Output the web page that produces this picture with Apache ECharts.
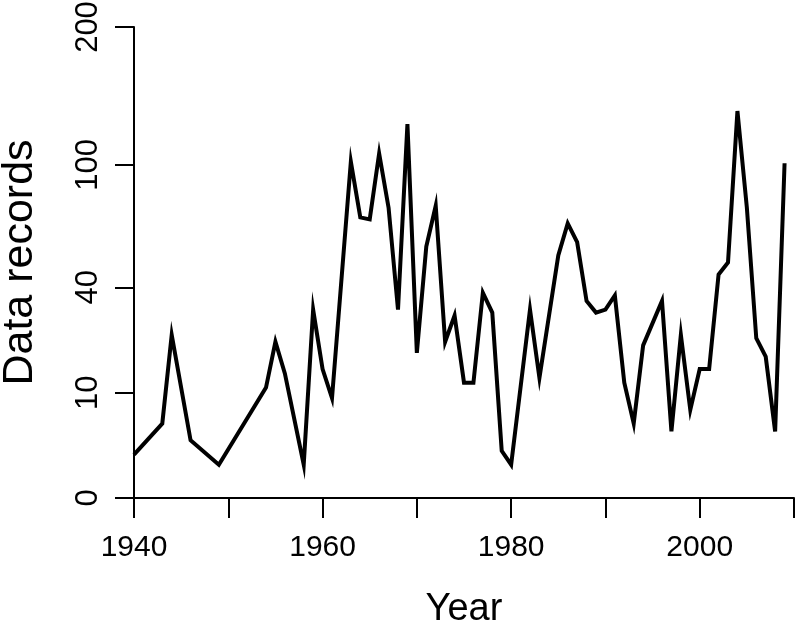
<!DOCTYPE html>
<html>
<head>
<meta charset="utf-8">
<script src="https://cdn.jsdelivr.net/npm/echarts@6/dist/echarts.min.js"></script>
<style>html,body{margin:0;padding:0;background:#fff;}#c{width:799px;height:636px;}</style>
</head>
<body>
<div id="c"></div>
<script>
// Years with data (years without records are not plotted, the line joins neighbours)
const years = [1940, 1943, 1944, 1946, 1949, 1954, 1955, 1956, 1958, 1959, 1960, 1961,
  1963, 1964, 1965, 1966, 1967, 1968, 1969, 1970, 1971, 1972, 1973, 1974, 1975, 1976,
  1977, 1978, 1979, 1980, 1982, 1983, 1985, 1986, 1987, 1988, 1989, 1990, 1991, 1992,
  1993, 1994, 1996, 1997, 1998, 1999, 2000, 2001, 2002, 2003, 2004, 2005, 2006, 2007,
  2008, 2009];
// Number of data records per year (plotted on a square-root axis)
const records = [1.7, 5, 24, 3, 1, 11, 22, 14, 1, 32, 15, 9,
  102, 71, 70, 107, 76, 32, 126, 19, 57, 77, 22, 30, 12, 12,
  38, 31, 2, 1, 32, 13, 53, 68, 59, 35, 31, 32, 37, 12,
  5, 21, 35, 4, 24, 7, 15, 15, 45, 50, 135, 76, 23, 18,
  4, 101];
const yTicks = [0, 10, 40, 100, 200];
const xTicks = [1940, 1960, 1980, 2000];

const chart = echarts.init(document.getElementById('c'), null, {renderer: 'canvas'});
const FONT = 'Liberation Sans, Arial, Helvetica, sans-serif';
chart.setOption({
  animation: false,
  backgroundColor: '#ffffff',
  grid: {left: 134, right: 5, top: 27, bottom: 138, containLabel: false, outerBoundsMode: 'none'},
  xAxis: {
    type: 'value', min: 1940, max: 2010, interval: 10,
    name: 'Year', nameLocation: 'middle', nameGap: 93,
    nameTextStyle: {fontFamily: FONT, fontSize: 38, color: '#000'},
    axisLine: {show: true, onZero: false, lineStyle: {color: '#000', width: 2}},
    axisTick: {show: true, inside: false, length: 20, lineStyle: {color: '#000', width: 2}},
    axisLabel: {
      margin: 35, fontFamily: FONT, fontSize: 30, color: '#000',
      showMinLabel: true, showMaxLabel: true,
      formatter: v => xTicks.indexOf(v) >= 0 ? String(v) : ''
    },
    splitLine: {show: false}
  },
  yAxis: {
    type: 'value', min: 0, max: Math.sqrt(200),
    name: 'Data records', nameLocation: 'middle', nameGap: 92,
    nameTextStyle: {fontFamily: FONT, fontSize: 43, color: '#000'},
    axisLine: {show: true, onZero: false, lineStyle: {color: '#000', width: 2}},
    axisTick: {show: true, inside: false, length: 19, lineStyle: {color: '#000', width: 2},
      customValues: yTicks.map(v => Math.sqrt(v))},
    axisLabel: {
      rotate: 90, margin: 30, fontFamily: FONT, fontSize: 31, color: '#000',
      customValues: yTicks.map(v => Math.sqrt(v)),
      formatter: v => String(Math.round(v * v))
    },
    splitLine: {show: false}
  },
  series: [{
    type: 'line',
    data: years.map((y, i) => [y, Math.sqrt(records[i])]),
    symbol: 'none',
    lineStyle: {color: '#000', width: 4, join: 'miter'},
    clip: true
  }]
});
</script>
</body>
</html>
